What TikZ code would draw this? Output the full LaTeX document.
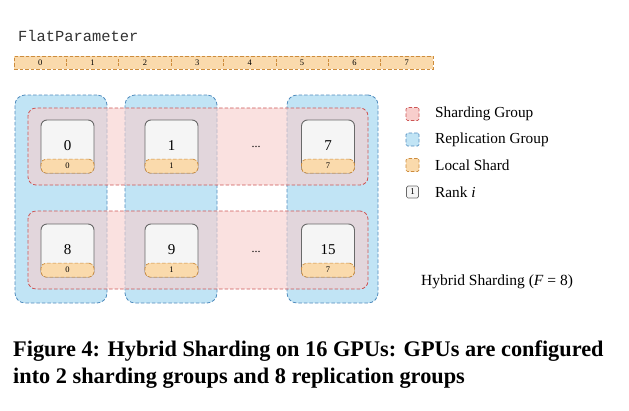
\documentclass[tikz,border=0pt]{standalone}
\usepackage{fontspec}
\setmainfont{Liberation Serif}
\newfontfamily\monofont{Liberation Mono}
\definecolor{blueF}{RGB}{193,228,245}
\definecolor{blueD}{RGB}{80,140,190}
\definecolor{pinkF}{RGB}{248,206,204}
\definecolor{pinkD}{RGB}{205,85,85}
\definecolor{orangeF}{RGB}{250,218,172}
\definecolor{orangeD}{RGB}{205,140,60}
\definecolor{grayF}{RGB}{245,245,245}
\definecolor{grayD}{RGB}{105,105,105}
\begin{document}
\begin{tikzpicture}[x=1pt,y=-1pt,
  dsh/.style={dash pattern=on 3.5pt off 2pt},
  rep/.style={draw=blueD,fill=blueF,dsh,rounded corners=10pt,line width=0.8pt,inner sep=0pt},
  shg/.style={draw=pinkD,fill=pinkF,fill opacity=0.6,draw opacity=1,dsh,rounded corners=8pt,line width=0.8pt,inner sep=0pt},
  rankbox/.style={draw=grayD,fill=grayF,rounded corners=6pt,line width=0.9pt,minimum width=53pt,minimum height=53pt,inner sep=0pt},
  strip/.style={draw=orangeD,fill=orangeF,dsh,rounded corners=5pt,line width=0.7pt,minimum width=53pt,minimum height=14pt,inner sep=0pt},
  bigno/.style={font=\fontsize{15}{15}\selectfont,inner sep=0pt},
  smallno/.style={font=\fontsize{8.5}{8.5}\selectfont,inner sep=0pt},
  legsq/.style={minimum width=13pt,minimum height=13pt,inner sep=0pt,rounded corners=1.5pt,line width=0.7pt,dsh},
  legtxt/.style={anchor=west,font=\fontsize{15.3}{15.3}\selectfont,inner sep=0pt},
]
\useasboundingbox (0,0) rectangle (629,410);
\fill[white] (0,0) rectangle (629,410);

% FlatParameter
\node[anchor=west,inner sep=0pt,text=black!80,font=\monofont\fontsize{15.4}{15.4}\selectfont] (fplabel) at (18,36) {FlatParameter};
\node[draw=orangeD,fill=orangeF,dsh,line width=0.8pt,minimum width=419pt,minimum height=13pt,inner sep=0pt] (bar) at (223.5,62.5) {};
\foreach \k in {0,...,7}{
  \node[smallno] (bn\k) at ({14+52.375*(\k+0.5)},62.5) {\k};
}
\foreach \k in {1,...,7}{
  \coordinate (bt\k) at ({14+52.375*\k},59);
  \coordinate (bb\k) at ({14+52.375*\k},66);
  \draw[orangeD,line width=0.7pt,dash pattern=on 2.5pt off 1.5pt] (bt\k) -- (bb\k);
}

% replication groups
\node[rep,minimum width=92pt,minimum height=208pt] (rep0) at (61,199) {};
\node[rep,minimum width=92pt,minimum height=208pt] (rep1) at (171,199) {};
\node[rep,minimum width=91pt,minimum height=208pt] (rep7) at (332.5,199) {};

% sharding groups
\node[shg,minimum width=340pt,minimum height=77pt] (sh0) at (198,146.5) {};
\node[shg,minimum width=340pt,minimum height=78pt] (sh1) at (198,250) {};

% rank boxes
\foreach \nm/\x/\y/\big/\sm in {r0/67.5/146.5/0/0, r1/171.5/146.5/1/1, r7/328/146.5/7/7,
                                 r8/67.5/250.5/8/0, r9/171.5/250.5/9/1, r15/328/250.5/15/7}{
  \node[rankbox] (\nm) at (\x,\y) {};
  \node[strip,anchor=south] (\nm s) at (\nm.south) {};
  \node[smallno] (\nm sl) at (\nm s) {\sm};
  \node[bigno] (\nm l) at (\x,\y-1) {\big};
}
\node[font=\fontsize{12}{12}\selectfont,inner sep=0pt] (dots0) at (256,147) {...};
\node[font=\fontsize{12}{12}\selectfont,inner sep=0pt] (dots1) at (256,252) {...};

% legend
\node[legsq,draw=pinkD,fill=pinkF] (lg0) at (412.5,114) {};
\node[legtxt] (lt0) at (435,114) {Sharding Group};
\node[legsq,draw=blueD,fill=blueF] (lg1) at (412.5,139.5) {};
\node[legtxt] (lt1) at (435,139.5) {Replication Group};
\node[legsq,draw=orangeD,fill=orangeF] (lg2) at (412.5,165) {};
\node[legtxt] (lt2) at (435,165) {Local Shard};
\node[minimum width=12pt,minimum height=12pt,inner sep=0pt,rounded corners=1.5pt,draw=grayD,fill=grayF,line width=0.7pt,font=\fontsize{9}{9}\selectfont] (lg3) at (412.5,192) {1};
\node[legtxt] (lt3) at (435,192) {Rank \textit{i}};

\node[anchor=west,inner sep=0pt,font=\fontsize{15.5}{15.5}\selectfont] (title) at (421,282) {Hybrid Sharding (\textit{F} = 8)};

% caption
\node[anchor=north west,inner sep=0pt,align=left,font=\bfseries\fontsize{22.3}{26.5}\selectfont] (caption) at (13,341)
  {Figure 4: Hybrid Sharding on 16 GPUs: GPUs are configured\\into 2 sharding groups and 8 replication groups};
\end{tikzpicture}
\end{document}
